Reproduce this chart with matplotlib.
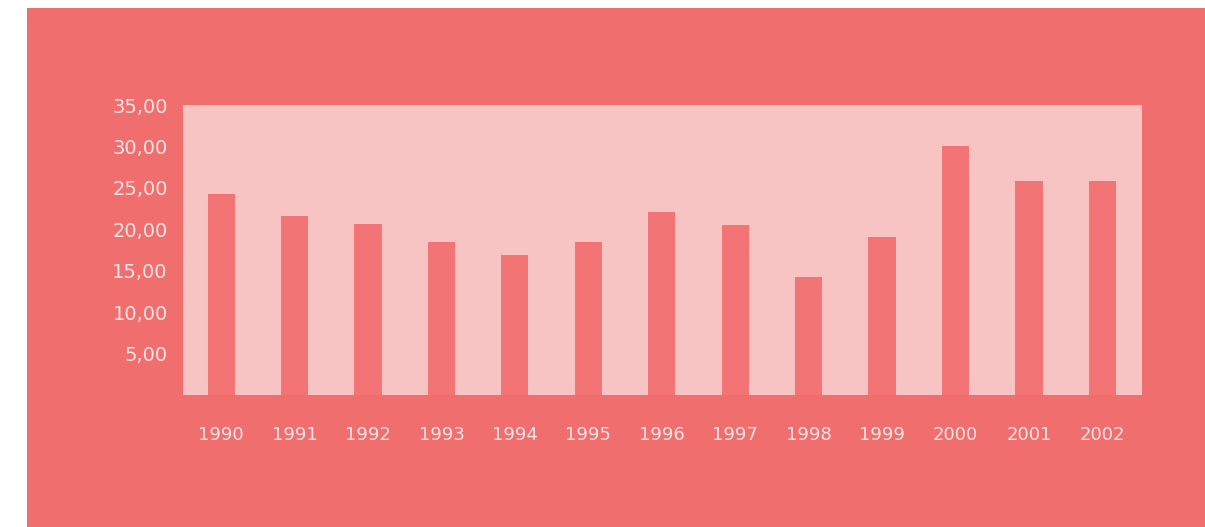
import matplotlib
matplotlib.use("Agg")
import matplotlib.pyplot as plt
from matplotlib.patches import Rectangle

# datos
anios = ["1990", "1991", "1992", "1993", "1994", "1995", "1996",
         "1997", "1998", "1999", "2000", "2001", "2002"]
valores = [24.2, 21.6, 20.6, 18.5, 16.9, 18.5, 22.1,
           20.5, 14.3, 19.1, 30.0, 25.8, 25.8]
ticks_y = [5, 10, 15, 20, 25, 30, 35]

fondo = "#f06e6e"
zona = "#f7c3c3"
barra = "#f27474"
texto = "#ffe4e4"

fig = plt.figure(figsize=(12.05, 5.27), dpi=100)
fig.patch.set_facecolor("white")
# fondo salmon con borde blanco arriba e izquierda
fig.patches.append(Rectangle((27/1205, 0), 1 - 27/1205, 1 - 8/527,
                             transform=fig.transFigure, facecolor=fondo,
                             edgecolor="none", zorder=-5))

ax = fig.add_axes([183/1205, 1 - 395/527, (1142 - 183)/1205, (395 - 105)/527])
ax.set_zorder(2)
ax.set_facecolor(zona)
x = range(len(anios))
ax.bar(x, valores, width=0.37, color=barra, zorder=2)

ax.set_xlim(-0.52, len(anios) - 1 + 0.54)
ax.set_ylim(0, 35)
ax.set_yticks(ticks_y)
ax.set_yticklabels([("%.2f" % v).replace(".", ",") for v in ticks_y])
ax.set_xticks(list(x))
ax.set_xticklabels(anios)

for s in ax.spines.values():
    s.set_visible(False)
ax.tick_params(axis="both", length=0, colors=texto)
ax.tick_params(axis="y", pad=11, labelsize=14)
ax.tick_params(axis="x", pad=22, labelsize=13)

fig.savefig("out.png", dpi=100, facecolor=fig.get_facecolor())
